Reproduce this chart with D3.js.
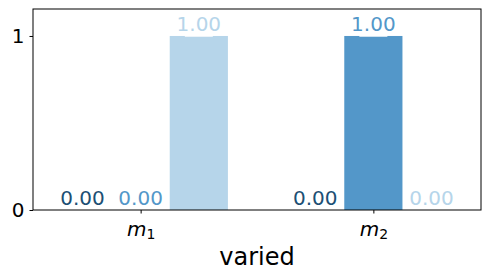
<!DOCTYPE html>
<html>
<head>
<meta charset="utf-8">
<script src="https://cdn.jsdelivr.net/npm/d3@7"></script>
<style>
body { margin: 0; background: #fff; }
svg { display: block; font-family: "DejaVu Sans", sans-serif; }
</style>
</head>
<body>
<svg id="chart" width="490" height="279"></svg>
<script>
var groups = ["m1", "m2"];
var seriesNames = ["s1", "s2", "s3"];
var seriesValues = [
    [0, 0],
    [0, 1],
    [1, 0]
];
var yTicks = [0, 1];
var xLabel = "varied";
var colors = ["#1c4f74", "#5397c9", "#b6d5ea"];

var svg = d3.select("#chart");
var margin = {top: 9, right: 9, bottom: 69, left: 33};
var width = 490 - margin.left - margin.right;
var height = 279 - margin.top - margin.bottom;
var g = svg.append("g").attr("transform", "translate(" + margin.left + "," + margin.top + ")");

// numeric x like matplotlib: groups at 0,1, bar width .25, 5% margins
var barW = 0.25;
var xMin = -1.5 * barW, xMax = groups.length - 1 + 1.5 * barW;
var pad = (xMax - xMin) * 0.05;
var x = d3.scaleLinear().domain([xMin - pad, xMax + pad]).range([0, width]);
var y = d3.scaleLinear().domain([0, 1.155]).range([height, 0]);

var bars = [];
seriesValues.forEach(function(vals, si) {
    vals.forEach(function(v, gi) {
        bars.push({series: si, group: gi, value: v, pos: gi + (si - 1) * barW});
    });
});

g.selectAll("rect.bar")
    .data(bars)
    .enter()
    .append("rect")
    .attr("class", "bar")
    .attr("x", d => x(d.pos - barW / 2))
    .attr("width", x(barW) - x(0))
    .attr("y", d => y(d.value))
    .attr("height", d => height - y(d.value))
    .attr("fill", d => colors[d.series]);

// white error caps at bar tops
g.selectAll("line.cap")
    .data(bars.filter(d => d.value > 0))
    .enter()
    .append("line")
    .attr("x1", d => x(d.pos) - 14)
    .attr("x2", d => x(d.pos) + 14)
    .attr("y1", d => y(d.value))
    .attr("y2", d => y(d.value))
    .attr("stroke", "#fff")
    .attr("stroke-width", 1.5);

g.selectAll("text.val")
    .data(bars)
    .enter()
    .append("text")
    .attr("x", d => x(d.pos))
    .attr("y", d => y(d.value) - 5)
    .attr("text-anchor", "middle")
    .attr("font-size", 20)
    .attr("fill", d => colors[d.series])
    .text(d => d.value.toFixed(2));

// y axis
var yAxis = g.append("g")
    .call(d3.axisLeft(y).tickValues(yTicks).tickSize(3.5).tickPadding(5).tickFormat(d3.format("d")));
yAxis.select(".domain").remove();
yAxis.selectAll("text").attr("font-size", 20).attr("fill", "#000").attr("font-family", "DejaVu Sans");
yAxis.selectAll("line").attr("stroke", "#000");

// x axis
var xAxis = g.append("g")
    .attr("transform", "translate(0," + height + ")")
    .call(d3.axisBottom(x).tickValues(d3.range(groups.length)).tickSize(3.5).tickFormat(""));
xAxis.select(".domain").remove();
xAxis.selectAll("line").attr("stroke", "#000");

xAxis.selectAll(".tick").each(function(d, i) {
    var t = d3.select(this).append("text")
        .attr("y", 26)
        .attr("text-anchor", "middle")
        .attr("fill", "#000")
        .attr("font-size", 20)
        .attr("font-family", "DejaVu Sans");
    t.append("tspan").attr("font-style", "italic").text(groups[i][0]);
    t.append("tspan").attr("font-size", 14).attr("dy", 3).text(groups[i].slice(1));
});

// frame
g.append("rect")
    .attr("width", width)
    .attr("height", height)
    .attr("fill", "none")
    .attr("stroke", "#000")
    .attr("stroke-width", 1);

svg.append("text")
    .attr("x", margin.left + width / 2)
    .attr("y", 265)
    .attr("text-anchor", "middle")
    .attr("font-size", 24)
    .text(xLabel);
</script>
</body>
</html>
